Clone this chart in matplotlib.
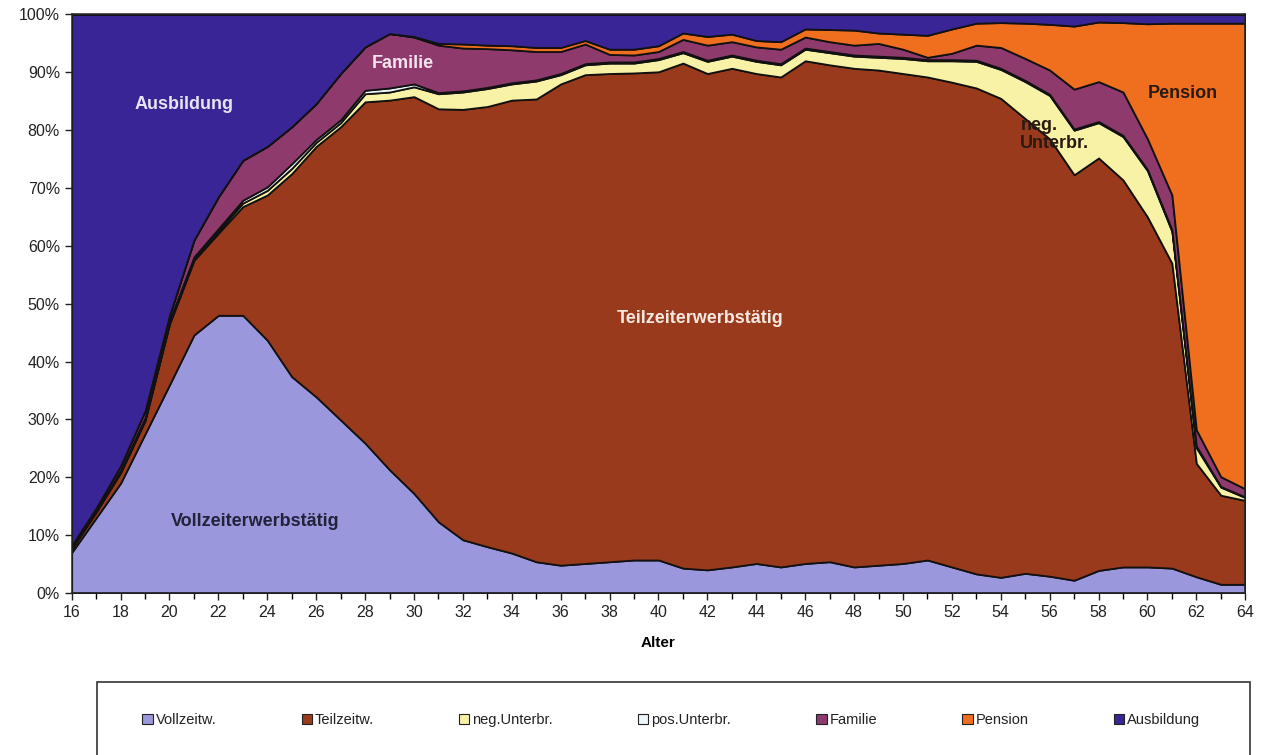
import matplotlib
matplotlib.use("Agg")
from matplotlib import pyplot as plt
from matplotlib.patches import Patch, Rectangle

plt.rcParams['font.family'] = ['Liberation Sans', 'DejaVu Sans']

# Alter 16..64
alter = list(range(16, 65))

# Anteile in Prozent je Alter (von unten nach oben gestapelt)
vollzeit = [7.0, 13.0, 19.0, 27.5, 36.0, 44.6, 48.0, 48.0, 43.7, 37.4,
            33.9, 29.9, 25.9, 21.3, 17.2, 12.3, 9.2, 8.0, 6.9, 5.4,
            4.8, 5.1, 5.4, 5.7, 5.7, 4.3, 4.0, 4.5, 5.1, 4.5,
            5.1, 5.4, 4.5, 4.8, 5.1, 5.7, 4.5, 3.3, 2.7, 3.4,
            2.9, 2.2, 3.9, 4.5, 4.5, 4.3, 2.8, 1.5, 1.5]
teilzeit = [0.6, 1.0, 1.8, 2.3, 10.5, 12.9, 14.2, 18.8, 25.1, 35.1,
            43.3, 50.7, 59.0, 63.9, 68.6, 71.4, 74.4, 76.1, 78.3, 80.0,
            83.2, 84.5, 84.4, 84.2, 84.4, 87.3, 85.8, 86.2, 84.7, 84.7,
            86.9, 85.9, 86.2, 85.6, 84.7, 83.5, 83.8, 84.0, 82.8, 78.6,
            75.6, 70.1, 71.3, 66.9, 60.5, 52.7, 19.6, 15.4, 14.5]
neg_unterbr = [0.1, 0.1, 0.2, 0.2, 0.3, 0.3, 0.4, 0.6, 0.8, 0.9,
               0.7, 0.7, 1.4, 1.4, 1.7, 2.6, 3.0, 3.1, 2.8, 3.1,
               1.6, 1.7, 1.8, 1.7, 2.1, 1.8, 2.1, 2.1, 2.1, 2.1,
               2.0, 2.1, 2.1, 2.2, 2.6, 2.8, 3.7, 4.6, 5.0, 6.4,
               7.5, 7.7, 6.1, 7.5, 8.0, 5.5, 2.7, 1.4, 0.5]
pos_unterbr = [0.1, 0.1, 0.2, 0.3, 0.3, 0.3, 0.4, 0.5, 0.6, 0.8,
               0.5, 0.5, 0.6, 0.7, 0.5, 0.2, 0.2, 0.2, 0.2, 0.2,
               0.2, 0.2, 0.2, 0.2, 0.2, 0.2, 0.2, 0.2, 0.2, 0.2,
               0.2, 0.2, 0.2, 0.2, 0.2, 0.2, 0.2, 0.2, 0.2, 0.2,
               0.2, 0.2, 0.2, 0.2, 0.2, 0.3, 0.3, 0.1, 0.1]
familie = [0.4, 0.5, 0.8, 1.2, 0.9, 2.9, 5.5, 6.9, 7.0, 6.4,
           6.2, 8.0, 7.5, 9.4, 8.1, 8.2, 7.4, 6.7, 5.7, 4.9,
           3.8, 3.4, 1.3, 1.2, 1.2, 2.1, 2.6, 2.3, 2.3, 2.5,
           1.9, 1.7, 1.7, 2.2, 1.4, 0.4, 1.1, 2.6, 3.6, 3.8,
           4.2, 6.9, 6.9, 7.5, 5.3, 6.0, 2.8, 1.7, 1.4]
pension = [0.0, 0.0, 0.0, 0.0, 0.0, 0.0, 0.0, 0.0, 0.0, 0.0,
           0.0, 0.0, 0.0, 0.0, 0.1, 0.3, 0.7, 0.6, 0.7, 0.7,
           0.7, 0.6, 0.9, 1.0, 1.0, 1.1, 1.5, 1.3, 1.1, 1.3,
           1.4, 2.1, 2.6, 1.8, 2.6, 3.8, 4.2, 3.8, 4.3, 6.1,
           7.9, 10.9, 10.3, 12.0, 19.9, 29.7, 70.3, 78.4, 80.5]
ausbildung = [91.8, 85.3, 78.0, 68.5, 52.0, 39.0, 31.5, 25.2, 22.8, 19.4,
              15.4, 10.2, 5.6, 3.3, 3.8, 5.0, 5.1, 5.3, 5.4, 5.7,
              5.7, 4.5, 6.0, 6.0, 5.4, 3.2, 3.8, 3.4, 4.5, 4.7,
              2.5, 2.6, 2.7, 3.2, 3.4, 3.6, 2.5, 1.5, 1.4, 1.5,
              1.7, 2.0, 1.3, 1.4, 1.6, 1.5, 1.5, 1.5, 1.5]

labels = ['Vollzeitw.', 'Teilzeitw.', 'neg.Unterbr.', 'pos.Unterbr.',
          'Familie', 'Pension', 'Ausbildung']
colors = ['#9b97dd', '#993a1c', '#f8f2a6', '#eef6fa',
          '#8e3a6c', '#ef6f1f', '#3a2596']

fig = plt.figure(figsize=(12.69, 7.55), dpi=100)
ax = fig.add_axes([0.0565, 0.2146, 0.9248, 0.7662])

ax.stackplot(alter, vollzeit, teilzeit, neg_unterbr, pos_unterbr, familie,
             pension, ausbildung, colors=colors, edgecolor='#111111',
             linewidth=1.3)

ax.set_xlim(16, 64)
ax.set_ylim(0, 100)
ax.set_xticks(range(16, 65, 2))
ax.set_xticks(range(16, 65), minor=True)
ax.set_yticks(range(0, 101, 10))
ax.set_yticklabels([str(v) + '%' for v in range(0, 101, 10)])
ax.tick_params(axis='both', direction='out', length=5, width=1,
               labelsize=11.5, colors='#222222')
ax.tick_params(axis='x', which='minor', direction='out', length=4, width=1)
for s in ax.spines.values():
    s.set_linewidth(1.1)
    s.set_color('#222222')
ax.set_xlabel('Alter', fontsize=11, fontweight='bold', labelpad=12)

# Beschriftungen im Diagramm
ax.text(20.6, 84.4, 'Ausbildung', color='#e6e4f2', fontsize=13,
        fontweight='bold', ha='center', va='center')
ax.text(29.55, 91.6, 'Familie', color='#f4e4ef', fontsize=13,
        fontweight='bold', ha='center', va='center')
ax.text(41.7, 47.5, 'Teilzeiterwerbstätig', color='#f6e8e0', fontsize=13,
        fontweight='bold', ha='center', va='center')
ax.text(23.5, 12.4, 'Vollzeiterwerbstätig', color='#22223a', fontsize=13,
        fontweight='bold', ha='center', va='center')
ax.text(61.45, 86.4, 'Pension', color='#2a1a10', fontsize=13,
        fontweight='bold', ha='center', va='center')
ax.text(54.8, 79.2, 'neg.\nUnterbr.', color='#2a1a10', fontsize=13,
        fontweight='bold', ha='left', va='center', linespacing=1.05)

# Legendenkasten unten
fig.patches.append(Rectangle((97 / 1269, -0.05), 1153 / 1269, 0.05 + 73 / 755,
                             transform=fig.transFigure, facecolor='white',
                             edgecolor='#333333', linewidth=1.2))
handles = [Patch(facecolor=c, edgecolor='#222222', linewidth=0.8) for c in colors]
fig.legend(handles, labels, loc='center', ncol=7, frameon=False,
           bbox_to_anchor=(0.529, 1 - 720 / 755), fontsize=10.5,
           handlelength=0.7, handleheight=0.7, handletextpad=0.2,
           columnspacing=5.85, labelcolor='#222222')

fig.savefig('out.png', dpi=100)
